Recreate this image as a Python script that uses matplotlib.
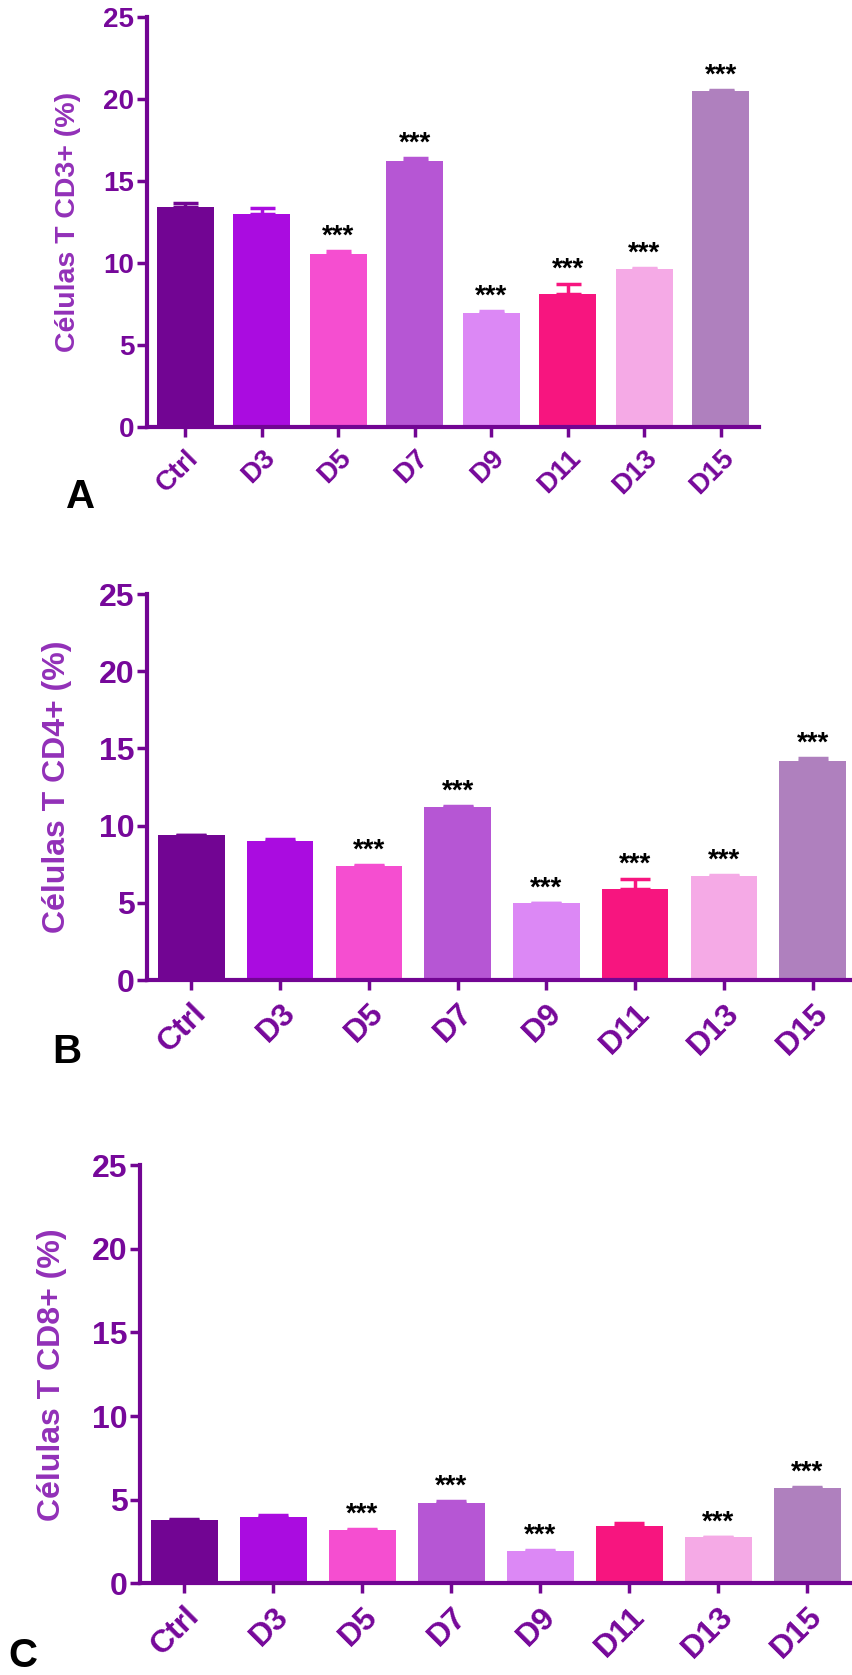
import numpy as np
import matplotlib.pyplot as plt

plt.rcParams['font.family'] = ['Liberation Sans', 'DejaVu Sans']
plt.rcParams['font.weight'] = 'bold'

groups = ['Ctrl', 'D3', 'D5', 'D7', 'D9', 'D11', 'D13', 'D15']
bar_colors = ['#720593', '#AA0CE0', '#F54ED0', '#B656D4',
              '#DC88F5', '#F7157F', '#F5AAE6', '#AF80BE']

# mean and upper SEM for each population
cd3_mean = [13.4, 13.0, 10.53, 16.24, 6.97, 8.11, 9.65, 20.47]
cd3_err = [0.25, 0.33, 0.22, 0.15, 0.08, 0.62, 0.03, 0.08]
cd3_sig = ['', '', '***', '***', '***', '***', '***', '***']

cd4_mean = [9.37, 9.03, 7.42, 11.22, 4.97, 5.89, 6.74, 14.16]
cd4_err = [0.05, 0.08, 0.04, 0.07, 0.04, 0.66, 0.07, 0.2]
cd4_sig = ['', '', '***', '***', '***', '***', '***', '***']

cd8_mean = [3.78, 3.94, 3.19, 4.82, 1.95, 3.43, 2.75, 5.68]
cd8_err = [0.04, 0.15, 0.08, 0.11, 0.06, 0.18, 0.03, 0.1]
cd8_sig = ['', '', '***', '***', '***', '', '***', '***']

axis_col = '#720593'
tick_col = '#76089A'
label_col = '#9230B8'

fig = plt.figure(figsize=(8.52, 16.75), dpi=100)

panels = [
    # rect, mean, err, sig, ylabel, tick size, label size, capsize, label x
    ([0.1725, 0.7451, 0.7183, 0.2448], cd3_mean, cd3_err, cd3_sig,
     'Células T CD3+ (%)', 20, 20.5, 9, -0.108),
    ([0.1725, 0.4149, 0.8333, 0.2304], cd4_mean, cd4_err, cd4_sig,
     'Células T CD4+ (%)', 23, 23, 11, -0.105),
    ([0.1643, 0.0547, 0.8357, 0.2497], cd8_mean, cd8_err, cd8_sig,
     'Células T CD8+ (%)', 23, 23, 11, -0.102),
]

for rect, mean, err, sig, ylab, tsize, lsize, cap, lx in panels:
    ax = fig.add_axes(rect)
    x = np.arange(len(groups))
    ax.bar(x, mean, width=0.75, color=bar_colors, zorder=2)
    for i in range(len(groups)):
        ax.errorbar(x[i], mean[i], yerr=[[0], [err[i]]], ecolor=bar_colors[i],
                    elinewidth=2.5, capsize=cap, capthick=2.5, fmt='none', zorder=3)
        if sig[i]:
            ax.annotate(sig[i], (x[i], mean[i] + err[i]), xytext=(0, 1),
                        textcoords='offset points', ha='center', va='bottom',
                        fontsize=20, fontweight='bold', color='black')

    ax.set_xlim(-0.5, 7.5)
    ax.set_ylim(0, 25)
    ax.set_yticks([0, 5, 10, 15, 20, 25])
    ax.set_xticks(x)
    ax.set_xticklabels(groups, rotation=45, ha='right', rotation_mode='anchor')
    for s in ['top', 'right']:
        ax.spines[s].set_visible(False)
    for s in ['left', 'bottom']:
        ax.spines[s].set_color(axis_col)
        ax.spines[s].set_linewidth(3)
    ax.tick_params(axis='both', colors=axis_col, width=2.5, length=7,
                   labelcolor=tick_col, labelsize=tsize)
    ax.tick_params(axis='x', pad=6)
    ax.tick_params(axis='y', pad=2)
    ax.set_ylabel(ylab, color=label_col, fontsize=lsize, fontweight='bold')
    ax.yaxis.set_label_coords(lx, 0.5)

fig.text(0.095, 0.703, 'A', fontsize=29, fontweight='bold', ha='center', va='center')
fig.text(0.079, 0.372, 'B', fontsize=29, fontweight='bold', ha='center', va='center')
fig.text(0.0094, 0.0227, 'C', fontsize=29, fontweight='bold', ha='left', va='top')

fig.savefig('out.png', dpi=100)
